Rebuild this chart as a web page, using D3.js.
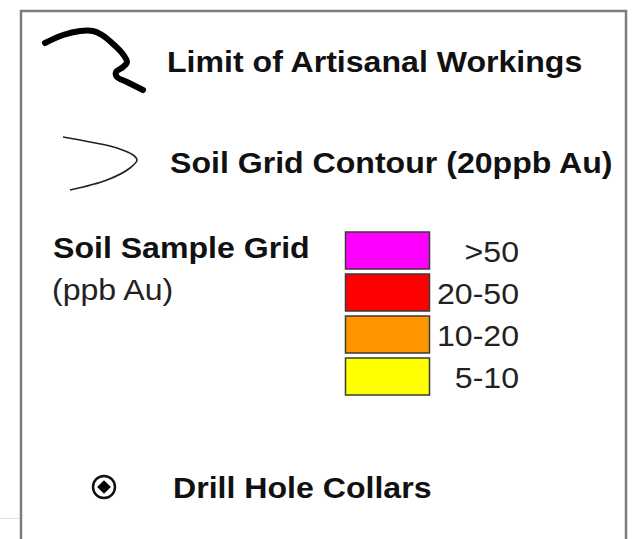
<!DOCTYPE html>
<html>
<head>
<meta charset="utf-8">
<script src="https://cdn.jsdelivr.net/npm/d3@7"></script>
<style>
  html, body { margin: 0; padding: 0; background: #fff; }
  svg { display: block; }
  text { font-family: "Liberation Sans", Arial, sans-serif; fill: #111; }
</style>
</head>
<body>
<div id="legend"></div>
<script>
// legend entries
let lineLabels = ["Limit of Artisanal Workings", "Soil Grid Contour (20ppb Au)"];
let gridTitle = "Soil Sample Grid";
let gridUnit = "(ppb Au)";
let binLabels = [">50", "20-50", "10-20", "5-10"];
let binColors = ["#ff00ff", "#ff0000", "#ff9600", "#ffff00"];
let collarLabel = "Drill Hole Collars";

let width = 633, height = 539;
let fontSize = 30;
let stretch = 1.07; // source image is a little wide

// symbol shapes (local coords)
let artisanalShape = [[0,12],[18,4],[35,0],[48,0],[57,4],[67,12],[77,22],[82,31],[78,36],[71,41],[72,46],[82,51],[98,59]];
let contourShape = [[0,0],[27,5],[54,11],[70,18],[74,23],[67,31],[44,43],[7,53]];

let svg = d3.select("#legend").append("svg")
  .attr("width", width)
  .attr("height", height);

// faint line outside the frame
svg.append("line")
  .attr("x1", 0).attr("x2", 20)
  .attr("y1", 518.5).attr("y2", 518.5)
  .attr("stroke", "#e4e4e4")
  .attr("stroke-width", 1);

// frame
svg.append("rect")
  .attr("x", 21).attr("y", 11)
  .attr("width", 605).attr("height", 560)
  .attr("fill", "#fff")
  .attr("stroke", "#7d7d7d")
  .attr("stroke-width", 2.5);

function addText(x, y, str, bold, anchor) {
  return svg.append("text")
    .attr("transform", "translate(" + x + "," + y + ") scale(" + stretch + ",1)")
    .attr("text-anchor", anchor || "start")
    .style("font-size", fontSize + "px")
    .style("font-weight", bold ? "bold" : "normal")
    .text(str);
}

let line = d3.line().curve(d3.curveCatmullRom.alpha(0.5));

// limit of artisanal workings
svg.append("path")
  .attr("transform", "translate(45,31)")
  .attr("d", line(artisanalShape))
  .attr("fill", "none")
  .attr("stroke", "#000")
  .attr("stroke-width", 6)
  .attr("stroke-linecap", "round")
  .attr("stroke-linejoin", "round");
addText(167, 72, lineLabels[0], true);

// soil grid contour
svg.append("path")
  .attr("transform", "translate(63,137)")
  .attr("d", line(contourShape))
  .attr("fill", "none")
  .attr("stroke", "#222")
  .attr("stroke-width", 1.6);
addText(170, 173, lineLabels[1], true);

// soil sample grid
addText(53, 258, gridTitle, true);
addText(52, 300, gridUnit, false).style("fill", "#222");

let yBand = d3.scaleBand()
  .domain(binLabels)
  .range([232, 395])
  .paddingInner(5 / 42);

let colorScale = d3.scaleOrdinal()
  .domain(binLabels)
  .range(binColors);

svg.selectAll(".swatch")
  .data(binLabels)
  .enter()
  .append("rect")
  .attr("class", "swatch")
  .attr("x", 345.5)
  .attr("y", d => yBand(d))
  .attr("width", 84)
  .attr("height", yBand.bandwidth())
  .attr("fill", d => colorScale(d))
  .attr("stroke", "#3a3a3a")
  .attr("stroke-width", 1.5);

svg.selectAll(".binLbl")
  .data(binLabels)
  .enter()
  .append("text")
  .attr("class", "binLbl")
  .attr("transform", d => "translate(519," + (yBand(d) + yBand.bandwidth() / 2 + 11) + ") scale(" + stretch + ",1)")
  .attr("text-anchor", "end")
  .style("font-size", fontSize + "px")
  .style("fill", "#222")
  .text(d => d);

// drill hole collar symbol
let collar = svg.append("g").attr("transform", "translate(104,487)");
collar.append("circle")
  .attr("r", 11)
  .attr("fill", "#fff")
  .attr("stroke", "#111")
  .attr("stroke-width", 2.5);
collar.append("path")
  .attr("d", d3.symbol().type(d3.symbolDiamond2).size(120)())
  .attr("fill", "#000");
addText(173, 498, collarLabel, true);
</script>
</body>
</html>
